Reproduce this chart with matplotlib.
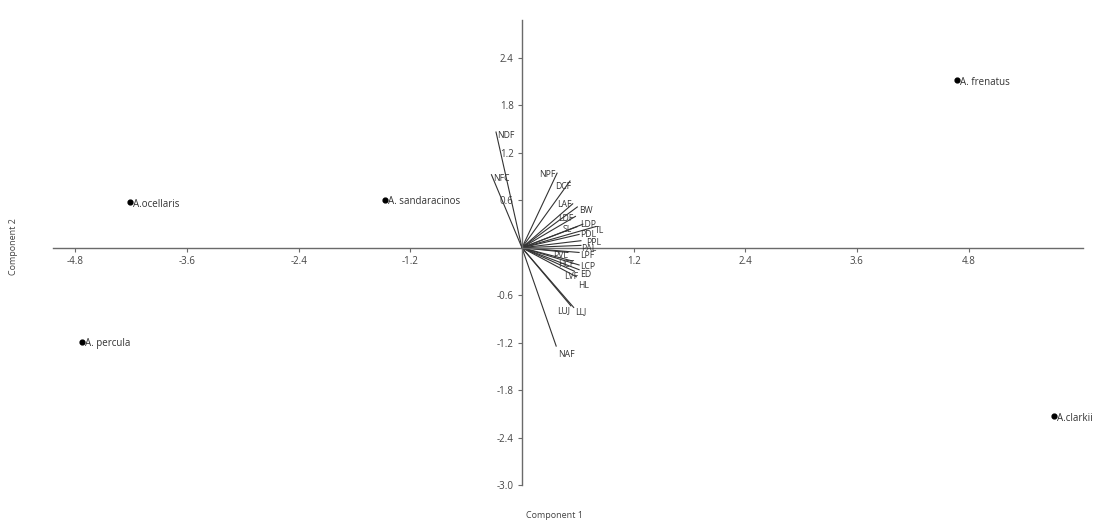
import matplotlib
matplotlib.use("Agg")
import matplotlib.pyplot as plt

plt.rcParams['font.family'] = ['Open Sans', 'DejaVu Sans']
plt.rcParams['axes.unicode_minus'] = False

# Species scores (Component 1, Component 2)
species = ["A.ocellaris", "A. percula", "A. sandaracinos", "A. frenatus", "A.clarkii"]
comp1 = [-4.21, -4.73, -1.47, 4.68, 5.72]
comp2 = [0.575, -1.19, 0.605, 2.12, -2.13]

# Variable loadings (biplot vectors)
var_names = ["NDF", "NFC", "NPF", "DCF", "LAF", "BW", "LDF", "SL", "LDP", "TL",
             "PDL", "PPL", "PAL", "LPF", "PVL", "HCF", "LCP", "ED", "LVF", "HL",
             "LUJ", "LLJ", "NAF"]
load1 = [-0.28, -0.33, 0.38, 0.52, 0.55, 0.60, 0.58, 0.60, 0.66, 0.80,
         0.62, 0.64, 0.64, 0.62, 0.50, 0.55, 0.62, 0.62, 0.57, 0.59,
         0.53, 0.56, 0.37]
load2 = [1.47, 0.93, 0.95, 0.85, 0.56, 0.52, 0.40, 0.27, 0.30, 0.27,
         0.17, 0.09, 0.03, -0.06, -0.06, -0.17, -0.22, -0.28, -0.30, -0.37,
         -0.74, -0.76, -1.25]

xticks = [-4.8, -3.6, -2.4, -1.2, 1.2, 2.4, 3.6, 4.8]
yticks = [-3.0, -2.4, -1.8, -1.2, -0.6, 0.6, 1.2, 1.8, 2.4]

# label placement: (horizontal alignment, dx points, dy points)
label_style = {
    "NDF": ("left", 1, -3), "NFC": ("left", 1, -3), "NPF": ("right", -1, -1),
    "DCF": ("right", 1, -4), "LAF": ("right", -1, -1), "BW": ("left", 1, -3),
    "LDF": ("right", -2, -2), "SL": ("right", -4, -2), "LDP": ("left", -2, 0),
    "TL": ("left", -1, -3), "PDL": ("left", 0, 0), "PPL": ("left", 3, -1),
    "PAL": ("left", 0, -2.5), "LPF": ("left", 0, -2.5), "PVL": ("right", 0, -2),
    "HCF": ("right", 1, -2.5), "LCP": ("left", 0, -1), "ED": ("left", 0, -3),
    "LVF": ("right", 2, -3.5), "HL": ("left", 1, -6), "LUJ": ("right", -1, -3),
    "LLJ": ("left", 1, -3), "NAF": ("left", 1, -6),
}

fig = plt.figure(figsize=(10.97, 5.23), dpi=100)
ax = fig.add_axes([53/1097, 38/523, (1083-53)/1097, (485-20)/523])
ax.set_xlim(-5.04, 6.03)
ax.set_ylim(-3.0, 2.88)

axis_col = "#6a6a6a"
for s in ["top", "right"]:
    ax.spines[s].set_visible(False)
ax.spines["left"].set_position(("data", 0))
ax.spines["bottom"].set_position(("data", 0))
for s in ["left", "bottom"]:
    ax.spines[s].set_color(axis_col)
    ax.spines[s].set_linewidth(1.0)

ax.set_xticks(xticks)
ax.set_xticklabels([f"{v:.1f}" for v in xticks])
ax.set_yticks(yticks)
ax.set_yticklabels([f"{v:.1f}" for v in yticks])
ax.tick_params(axis="both", direction="out", length=3, width=0.8, color=axis_col,
               labelsize=7, labelcolor="#444444", pad=3)

# vectors
for name, lx, ly in zip(var_names, load1, load2):
    ax.plot([0, lx], [0, ly], color="#333333", lw=0.8, solid_capstyle="butt")
    ha, dx, dy = label_style[name]
    ax.annotate(name, (lx, ly), xytext=(dx, dy), textcoords="offset points",
                ha=ha, va="center", fontsize=6.2, color="#333333")

# species points
ax.scatter(comp1, comp2, s=12, color="black", zorder=5)
for name, x, y in zip(species, comp1, comp2):
    ax.annotate(name, (x, y), xytext=(2, -1.5), textcoords="offset points",
                ha="left", va="center", fontsize=7, color="#333333")

fig.text(555/1097, 1 - 516/523, "Component 1", ha="center", va="center",
         fontsize=6.5, color="#444444")
fig.text(14/1097, 1 - 247/523, "Component 2", ha="center", va="center",
         rotation=90, fontsize=6.5, color="#444444")

fig.savefig("out.png", dpi=100)
